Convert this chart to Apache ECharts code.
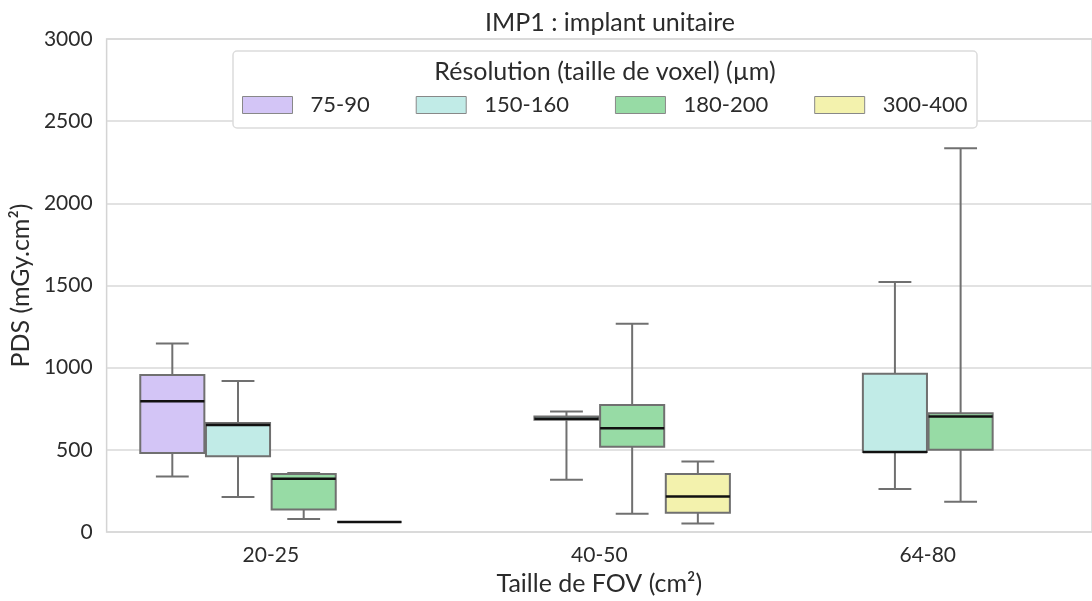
<!DOCTYPE html>
<html>
<head>
<meta charset="utf-8">
<title>IMP1 : implant unitaire</title>
<script src="https://cdn.jsdelivr.net/npm/echarts@6/dist/echarts.min.js"></script>
<style>
  html, body { margin: 0; padding: 0; background: #fff; }
  #chart { width: 1092px; height: 601px; }
</style>
</head>
<body>
<div id="chart"></div>
<script>
// FOV size groups along the x axis
const categories = ['20-25', '40-50', '64-80'];
// Voxel resolution groups (one box per group within each FOV)
const resolutions = ['75-90', '150-160', '180-200', '300-400'];
const yTicks = { min: 0, max: 3000, interval: 500 };

// Box statistics per FOV group: [min, Q1, median, Q3, max] in mGy.cm², null = no data
const stats_75_90   = [[339, 481, 796, 956, 1147], null, null];
const stats_150_160 = [[214, 462, 652, 664, 919], [319, 683, 689, 703, 733], [262, 487, 488, 964, 1521]];
const stats_180_200 = [[79, 137, 325, 353, 359], [111, 519, 632, 773, 1268], [184, 501, 703, 723, 2335]];
const stats_300_400 = [[61, 61, 61, 61, 61], [52, 117, 216, 353, 430], null];

const allStats = [stats_75_90, stats_150_160, stats_180_200, stats_300_400];
const fills = ['#d3c5f6', '#c1ebe7', '#97dba5', '#f3f2ad'];
const edge = '#707070';
const textColor = '#2b2b2b';
const fontFamily = 'Lato, "Open Sans", sans-serif';

function boxRenderer(hueIndex, fill) {
  return function (params, api) {
    const cat = api.value(0);
    const lo = api.value(1), q1 = api.value(2), med = api.value(3), q3 = api.value(4), hi = api.value(5);
    const band = api.size([1, 0])[0];
    const slot = band * 0.8 / resolutions.length;
    const cx = api.coord([cat, 0])[0] + (hueIndex - (resolutions.length - 1) / 2) * slot;
    const y = v => api.coord([cat, v])[1];
    const half = slot / 2 - 0.8;
    const cap = slot / 4;
    const lineStyle = { stroke: edge, lineWidth: 2 };
    return {
      type: 'group',
      children: [
        { type: 'line', shape: { x1: cx, y1: y(q3), x2: cx, y2: y(hi) }, style: lineStyle },
        { type: 'line', shape: { x1: cx, y1: y(q1), x2: cx, y2: y(lo) }, style: lineStyle },
        { type: 'line', shape: { x1: cx - cap, y1: y(hi), x2: cx + cap, y2: y(hi) }, style: lineStyle },
        { type: 'line', shape: { x1: cx - cap, y1: y(lo), x2: cx + cap, y2: y(lo) }, style: lineStyle },
        {
          type: 'rect',
          shape: { x: cx - half, y: y(q3), width: half * 2, height: y(q1) - y(q3) },
          style: { fill: fill, stroke: edge, lineWidth: 2 }
        },
        {
          type: 'line',
          shape: { x1: cx - half, y1: y(med), x2: cx + half, y2: y(med) },
          style: { stroke: '#111', lineWidth: 2.5 }
        }
      ]
    };
  };
}

const series = resolutions.map((name, h) => ({
  name: name,
  type: 'custom',
  renderItem: boxRenderer(h, fills[h]),
  itemStyle: { color: fills[h], borderColor: edge, borderWidth: 1 },
  encode: { x: 0, y: [1, 2, 3, 4, 5] },
  data: allStats[h]
    .map((s, i) => (s ? [i].concat(s) : null))
    .filter(d => d !== null),
  z: 2
}));

const chart = echarts.init(document.getElementById('chart'), null, { renderer: 'canvas' });
chart.setOption({
  animation: false,
  backgroundColor: '#fff',
  textStyle: { fontFamily: fontFamily },
  title: {
    text: 'IMP1 : implant unitaire',
    left: 605,
    textAlign: 'center',
    top: 5,
    textStyle: { fontFamily: fontFamily, fontSize: 25, fontWeight: 'normal', color: textColor }
  },
  grid: { left: 106, top: 39, width: 998, height: 495, show: true, borderColor: '#d4d4d4', borderWidth: 1.5 },
  xAxis: {
    type: 'category',
    data: categories,
    name: 'Taille de FOV (cm²)',
    nameLocation: 'middle',
    nameGap: 37,
    nameTextStyle: { fontSize: 25, color: textColor, fontFamily: fontFamily },
    axisLine: { show: false },
    axisTick: { show: false },
    axisLabel: { fontSize: 21, color: textColor, margin: 13, fontFamily: fontFamily },
    splitLine: { show: false }
  },
  yAxis: {
    type: 'value',
    min: yTicks.min,
    max: yTicks.max,
    interval: yTicks.interval,
    name: 'PDS (mGy.cm²)',
    nameLocation: 'middle',
    nameGap: 72,
    nameTextStyle: { fontSize: 25, color: textColor, fontFamily: fontFamily },
    axisLine: { show: false },
    axisTick: { show: false },
    axisLabel: {
      fontSize: 21, color: textColor, margin: 14, fontFamily: fontFamily,
      formatter: v => String(v)
    },
    splitLine: { lineStyle: { color: '#d9d9d9', width: 1.5 } }
  },
  legend: {
    left: 242,
    top: 94,
    padding: 0,
    itemWidth: 50,
    itemHeight: 17,
    itemGap: 46,
    icon: 'rect',
    selectedMode: false,
    textStyle: { fontSize: 22, color: textColor, fontFamily: fontFamily, padding: [0, 0, 0, 13] },
    data: resolutions.map((name, h) => ({
      name: name,
      itemStyle: { color: fills[h], borderColor: '#888', borderWidth: 1 }
    })),
    z: 6
  },
  graphic: [
    {
      type: 'rect',
      z: 5,
      shape: { x: 233, y: 51, width: 744, height: 77, r: 4 },
      style: { fill: '#fff', stroke: '#dcdcdc', lineWidth: 1.5 }
    },
    {
      type: 'text',
      z: 6,
      x: 605,
      y: 72,
      style: {
        text: 'Résolution (taille de voxel) (µm)',
        fontSize: 25,
        fontFamily: fontFamily,
        fill: textColor,
        align: 'center',
        verticalAlign: 'middle'
      }
    }
  ],
  series: series
});
</script>
</body>
</html>
